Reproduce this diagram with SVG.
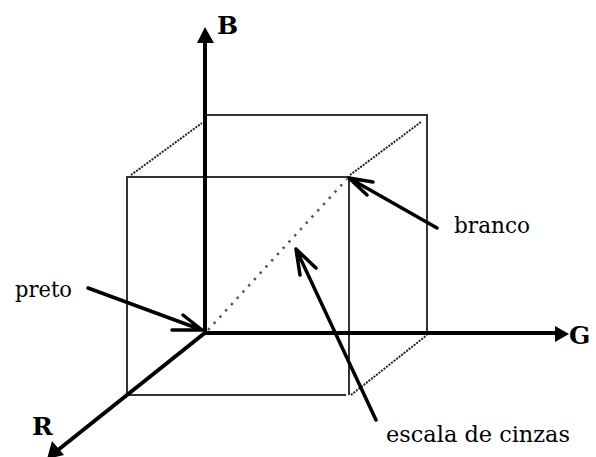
<svg xmlns="http://www.w3.org/2000/svg" width="596" height="457" viewBox="0 0 596 457">
<style>
.edge{stroke:#333;stroke-width:2;fill:none}
.dot{stroke:#222;stroke-width:2;fill:none;stroke-dasharray:2 1.2}
.gray{stroke:#555;stroke-width:2.5;fill:none;stroke-dasharray:2.5 6}
.axis{stroke:#000;stroke-width:4;fill:none}
.ptr{stroke:#000;stroke-width:3.5;fill:none;stroke-linecap:round;stroke-linejoin:round}
.ax{font-family:"DejaVu Serif","Liberation Serif",serif;font-weight:bold;font-size:25px;fill:#000}
.lbl{font-family:"DejaVu Serif","Liberation Serif",serif;font-size:22px;fill:#000}
</style>
<rect width="596" height="457" fill="#fff"/>
<g id="cube">
<path class="edge" d="M127,395 V177 H349 V395 M127,395 H346"/>
<path class="edge" d="M205,115 H427 V333"/>
<path class="dot" d="M131,175 L202,123 M350,175 L421,122 M351,395 L427,335"/>
</g>
<g id="connectors">
<path class="gray" d="M208,330 L347,179"/>
<path class="ptr" d="M88,288 L202,330 M172,330 H202 L183,315"/>
<path class="ptr" d="M437,228 L349,178 M373,182 L349,178 L367,195"/>
<path class="ptr" d="M376,420 L296,249 M300,275 L296,249 L316,268"/>
</g>
<g id="axis-B">
<line class="axis" x1="205" y1="335" x2="205" y2="40"/>
<polygon points="205,27 197,43 214,43" fill="#000"/>
<text class="ax" x="217" y="34">B</text>
</g>
<g id="axis-G">
<line class="axis" x1="203" y1="333" x2="558" y2="333"/>
<polygon points="569,334 555,326 555,342" fill="#000"/>
<text class="ax" x="569" y="344">G</text>
</g>
<g id="axis-R">
<line class="axis" x1="206" y1="332" x2="58" y2="450"/>
<polygon points="47,459 52,441 64,455" fill="#000"/>
<text class="ax" x="32" y="435">R</text>
</g>
<g id="labels">
<text class="lbl" x="15" y="297" textLength="57" lengthAdjust="spacingAndGlyphs">preto</text>
<text class="lbl" x="454" y="233" textLength="76" lengthAdjust="spacingAndGlyphs">branco</text>
<text class="lbl" x="386" y="442" textLength="184" lengthAdjust="spacingAndGlyphs">escala de cinzas</text>
</g>
</svg>
